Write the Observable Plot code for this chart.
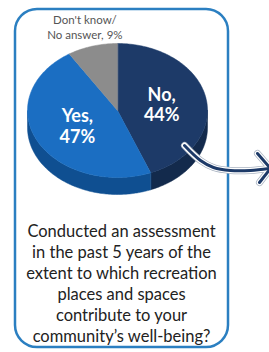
<!DOCTYPE html>
<html>
<head>
<meta charset="utf-8">
<script src="https://cdn.jsdelivr.net/npm/d3@7"></script>
<script src="https://cdn.jsdelivr.net/npm/@observablehq/plot@0.6"></script>
<style>
  html, body { margin: 0; padding: 0; background: #ffffff; }
  #chart svg { display: block; }
</style>
</head>
<body>
<div id="chart"></div>
<script>
// ---- data ----
const categories = ["No", "Yes", "Don't know/No answer"];
const shares = [44, 47, 9];
const sliceLabels = ["No,\n44%", "Yes,\n47%", "Don't know/\nNo answer, 9%"];
const topColors = ["#1d3a68", "#1b6ec2", "#8c8c8c"];
const sideColors = ["#132a4c", "#0f4f91", "#666666"];
const labelColors = ["#ffffff", "#ffffff", "#555555"];
const labelRadius = [0.5, 0.5, 1.3];
const caption = "Conducted an assessment\nin the past 5 years of the\nextent to which recreation\nplaces and spaces\ncontribute to your\ncommunity\u2019s well-being?";
// arrow path (pixel space of the picture)
const arrowX = [184, 200, 213, 230, 250, 269];
const arrowY = [145, 160, 167, 170, 170, 168];
const arrowHeadX = [257, 270, 259];
const arrowHeadY = [153, 168, 182];

// ---- layout ----
const W = 269, H = 352;
const cx = 117, cy = 110, rx = 90, ry = 67, depthPx = 17;
const D = depthPx / ry;
const X = px => (px - cx) / rx;
const Y = py => (cy - py) / ry;

// ---- geometry from data ----
const total = d3.sum(shares);
const tops = [], sides = [], labelPts = [];
let acc = 0;
categories.forEach((c, i) => {
  const a0 = acc / total * 2 * Math.PI;
  acc += shares[i];
  const a1 = acc / total * 2 * Math.PI;
  // top face
  tops.push({cat: c, u: 0, v: 0, fill: topColors[i]});
  const n = Math.max(2, Math.ceil((a1 - a0) / (Math.PI / 180)));
  for (let k = 0; k <= n; k++) {
    const t = a0 + (a1 - a0) * k / n;
    tops.push({cat: c, u: Math.sin(t), v: Math.cos(t), fill: topColors[i]});
  }
  // side (visible front half: angles between 90° and 270° clockwise from top)
  const s = Math.max(a0, Math.PI / 2), e = Math.min(a1, 3 * Math.PI / 2);
  if (e > s) {
    const m = Math.max(2, Math.ceil((e - s) / (Math.PI / 180)));
    const upper = [], lower = [];
    for (let k = 0; k <= m; k++) {
      const t = s + (e - s) * k / m;
      upper.push({cat: c, u: Math.sin(t), v: Math.cos(t), fill: sideColors[i]});
      lower.push({cat: c, u: Math.sin(t), v: Math.cos(t) - D, fill: sideColors[i]});
    }
    sides.push(...upper, ...lower.reverse());
  }
  const mid = (a0 + a1) / 2;
  labelPts.push({
    u: labelRadius[i] * Math.sin(mid),
    v: labelRadius[i] * Math.cos(mid),
    text: sliceLabels[i],
    color: labelColors[i],
    inside: labelRadius[i] < 1
  });
});

const box = [{x1: X(15), x2: X(228), y1: Y(9), y2: Y(347)}];
const arrow = arrowX.map((x, i) => ({u: X(x), v: Y(arrowY[i])}));
const head = arrowHeadX.map((x, i) => ({u: X(x), v: Y(arrowHeadY[i])}));

const chart = Plot.plot({
  width: W,
  height: H,
  margin: 0,
  style: {background: "#ffffff", overflow: "hidden"},
  x: {domain: [X(0), X(W)], range: [0, W], axis: null},
  y: {domain: [Y(H), Y(0)], range: [H, 0], axis: null},
  marks: [
    Plot.rect(box, {x1: "x1", x2: "x2", y1: "y1", y2: "y2", rx: 22, ry: 22,
      fill: "#ffffff", stroke: "#2b7fc1", strokeWidth: 2.5}),
    Plot.line(sides, {x: "u", y: "v", z: "cat", fill: d => d.fill, stroke: d => d.fill,
      strokeWidth: 0.5, curve: "linear-closed"}),
    Plot.line(tops, {x: "u", y: "v", z: "cat", fill: d => d.fill, stroke: d => d.fill,
      strokeWidth: 0.5, curve: "linear-closed"}),
    Plot.text(labelPts.filter(d => d.inside), {x: "u", y: "v", text: "text", fill: "color",
      fontFamily: "Lato", fontWeight: "bold", fontSize: 18, lineHeight: 1.15}),
    Plot.text(labelPts.filter(d => !d.inside), {x: "u", y: "v", text: "text", fill: "color",
      fontFamily: "Lato", fontSize: 11.5, lineHeight: 1.3}),
    // arrow: outline, halo, core
    Plot.line(arrow, {x: "u", y: "v", curve: "catmull-rom", stroke: "#aab4c2", strokeWidth: 7}),
    Plot.line(head, {x: "u", y: "v", stroke: "#aab4c2", strokeWidth: 7, strokeLinejoin: "miter"}),
    Plot.line(arrow, {x: "u", y: "v", curve: "catmull-rom", stroke: "#ffffff", strokeWidth: 5.5}),
    Plot.line(head, {x: "u", y: "v", stroke: "#ffffff", strokeWidth: 5.5, strokeLinejoin: "miter"}),
    Plot.line(arrow, {x: "u", y: "v", curve: "catmull-rom", stroke: "#1d3a68", strokeWidth: 3}),
    Plot.line(head, {x: "u", y: "v", stroke: "#1d3a68", strokeWidth: 3, strokeLinejoin: "miter"}),
    Plot.text([caption], {x: X(121), y: Y(282.5), text: d => d, fill: "#222222",
      fontFamily: "Lato", fontSize: 16.5, lineHeight: 1.27})
  ]
});
document.getElementById("chart").appendChild(chart);
</script>
</body>
</html>
